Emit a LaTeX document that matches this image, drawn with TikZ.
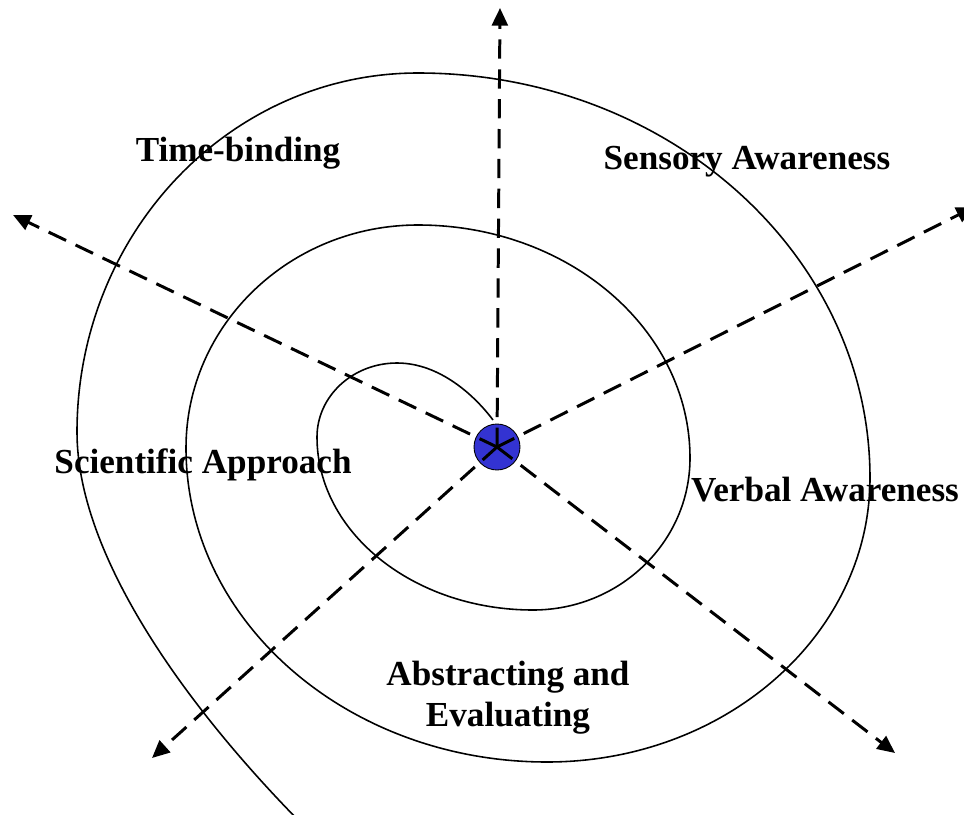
\documentclass[tikz,border=0pt]{standalone}
\usepackage{fontspec}
\setmainfont{Liberation Serif}
\usetikzlibrary{arrows.meta,calc}

\definecolor{hubblue}{RGB}{51,51,210}
\def\areas{{(238,153)/time/Time-binding}, {(747,162)/sensory/Sensory Awareness}, {(203,465)/scientific/Scientific Approach}, {(825,490)/verbal/Verbal Awareness}}
\tikzset{
  hub/.style={circle, draw=black, line width=0.5pt, fill=hubblue, minimum size=0.92cm, inner sep=0pt},
  dashed ray/.style={draw=black, line width=1.7pt, dash pattern=on 11pt off 6pt, -{Triangle[length=10pt,width=9pt]}},
  spiral line/.style={line width=0.9pt},
  area/.style={font=\bfseries\fontsize{20}{23.5}\selectfont, align=center, inner sep=0pt},
  % quarter of an ellipse: from a top/bottom point to a side point, and back
  hv arc/.style={to path={.. controls ($(\tikztostart)!0.5523!(\tikztotarget |- \tikztostart)$) and ($(\tikztotarget)!0.5523!(\tikztotarget |- \tikztostart)$) .. (\tikztotarget)}},
  vh arc/.style={to path={.. controls ($(\tikztostart)!0.5523!(\tikztostart |- \tikztotarget)$) and ($(\tikztotarget)!0.5523!(\tikztostart |- \tikztotarget)$) .. (\tikztotarget)}}
}

\begin{document}
\begin{tikzpicture}[x=0.02cm, y=-0.02cm]
  \useasboundingbox (0,0) rectangle (964,815);

  % Turning points of the spiral
  \coordinate (s0) at (493,420);
  \coordinate (t1) at (397,363);
  \coordinate (l1) at (317,437);
  \coordinate (b1) at (533,610);
  \coordinate (r1) at (690,458);
  \coordinate (t2) at (418,225);
  \coordinate (l2) at (186,448);
  \coordinate (b2) at (547,762);
  \coordinate (r2) at (870,478);
  \coordinate (t3) at (418,73);
  \coordinate (l3) at (77,432);
  \coordinate (e0) at (300,822);

  % The spiral
  \draw[spiral line] (s0) .. controls (475,396) and (440,363) .. (t1)
    to[hv arc] (l1) to[vh arc] (b1) to[hv arc] (r1) to[vh arc] (t2)
    to[hv arc] (l2) to[vh arc] (b2) to[hv arc] (r2) to[vh arc] (t3)
    to[hv arc] (l3) .. controls (77,555) and (185,705) .. (e0);

  % The hub in the middle
  \node[hub] (hub) at (497,447) {};

  % Ends of the rays
  \coordinate (up) at (500,8);
  \coordinate (upleft) at (13,215);
  \coordinate (upright) at (974,207);
  \coordinate (downleft) at (152,758);
  \coordinate (downright) at (895,753);

  % Dashed rays out of the hub
  \foreach \name in {up, upleft, upright, downleft, downright} {
    \draw[dashed ray] (hub.center) -- (\name);
    }

  % Labels of the areas
  \foreach \pos/\name/\label in \areas {
    \node[area] (\name) at \pos {\label};
    }
  \node[area] (abstracting) at (508,698) {Abstracting and\\Evaluating};
\end{tikzpicture}
\end{document}
